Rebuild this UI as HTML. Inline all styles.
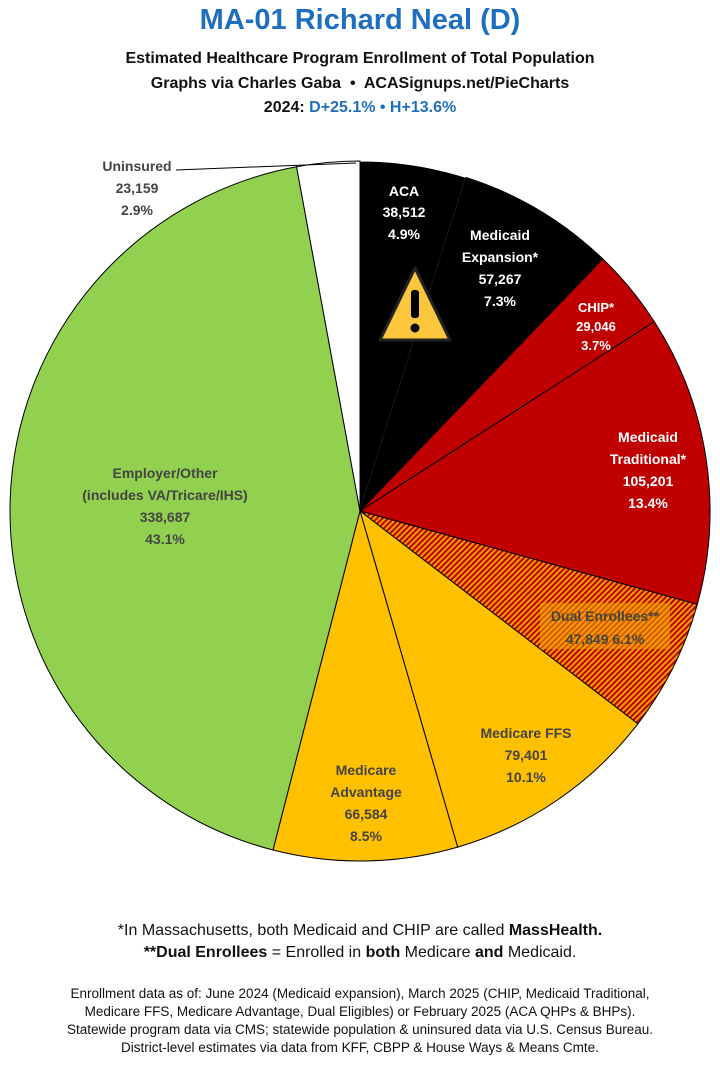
<!DOCTYPE html>
<html><head><meta charset="utf-8"><style>
html,body{margin:0;padding:0;background:#fff;}
body{width:720px;height:1070px;position:relative;font-family:"Liberation Sans",sans-serif;overflow:hidden;}
.c{position:absolute;left:0;width:720px;text-align:center;color:#111;}
</style></head><body>
<div class="c" style="top:4px;font-size:29px;font-weight:bold;color:#1f6fc0;">MA-01 Richard Neal (D)</div>
<div class="c" style="top:50px;font-size:16px;font-weight:bold;">Estimated Healthcare Program Enrollment of Total Population</div>
<div class="c" style="top:75px;font-size:16px;font-weight:bold;">Graphs via Charles Gaba &nbsp;•&nbsp; ACASignups.net/PieCharts</div>
<div class="c" style="top:99px;font-size:16px;font-weight:bold;">2024: <span style="color:#1f6fc0">D+25.1% • H+13.6%</span></div>
<svg style="position:absolute;left:0;top:0" width="720" height="1070">
<defs><pattern id="h" width="4" height="4" patternUnits="userSpaceOnUse" patternTransform="rotate(-45)">
<rect width="4" height="4" fill="#f0a000"/><rect width="4" height="2" fill="#c00000"/></pattern></defs>
<g id="pie" stroke="#000" stroke-width="1"></g>
<g font-family="Liberation Sans,sans-serif" font-weight="bold" font-size="14" text-anchor="middle">
<polygon points="415,268 380,340 450,340" fill="#fcc73c" stroke="#222" stroke-width="3" stroke-linejoin="round"/>
<rect x="411" y="290" width="8" height="28" rx="3" fill="#000"/><circle cx="415" cy="328" r="4.5" fill="#000"/>
<g fill="#fff"><text x="404" y="196">ACA</text><text x="404" y="217">38,512</text><text x="404" y="239">4.9%</text>
<text x="500" y="240">Medicaid</text><text x="500" y="262">Expansion*</text><text x="500" y="284">57,267</text><text x="500" y="306">7.3%</text>
<text x="596" y="312" font-size="13">CHIP*</text><text x="596" y="331" font-size="13">29,046</text><text x="596" y="350" font-size="13">3.7%</text>
<text x="648" y="442">Medicaid</text><text x="648" y="464">Traditional*</text><text x="648" y="486">105,201</text><text x="648" y="508">13.4%</text></g>
<rect x="540" y="603" width="130" height="46" fill="#f0a000" opacity="0.55"/>
<g fill="#444"><text x="605" y="621">Dual Enrollees**</text><text x="605" y="644">47,849 6.1%</text>
<text x="526" y="738">Medicare FFS</text><text x="526" y="760">79,401</text><text x="526" y="782">10.1%</text>
<text x="366" y="775">Medicare</text><text x="366" y="797">Advantage</text><text x="366" y="819">66,584</text><text x="366" y="841">8.5%</text>
<text x="165" y="478">Employer/Other</text><text x="165" y="500">(includes VA/Tricare/IHS)</text><text x="165" y="522">338,687</text><text x="165" y="544">43.1%</text>
<text x="137" y="171">Uninsured</text><text x="137" y="193">23,159</text><text x="137" y="215">2.9%</text></g>
</g>
<line x1="176" y1="170" x2="356" y2="163" stroke="#000" stroke-width="1"/>
</svg>
<div class="c" style="top:922px;font-size:16px;">*In Massachusetts, both Medicaid and CHIP are called <b>MassHealth.</b></div>
<div class="c" style="top:944px;font-size:16px;"><b>**Dual Enrollees</b> = Enrolled in <b>both</b> Medicare <b>and</b> Medicaid.</div>
<div class="c" style="top:985px;font-size:13.5px;line-height:18px;">Enrollment data as of: June 2024 (Medicaid expansion), March 2025 (CHIP, Medicaid Traditional,<br>Medicare FFS, Medicare Advantage, Dual Eligibles) or February 2025 (ACA QHPs &amp; BHPs).<br>Statewide program data via CMS; statewide population &amp; uninsured data via U.S. Census Bureau.<br>District-level estimates via data from KFF, CBPP &amp; House Ways &amp; Means Cmte.</div>
<script>
var d=[[4.9,"#000"],[7.3,"#000"],[3.7,"#c00000"],[13.4,"#c00000"],[6.1,"url(#h)"],[10.1,"#ffc000"],[8.5,"#ffc000"],[43.1,"#92d050"],[2.9,"#fff"]];
var cx=360,cy=511,r=350,a=0,g=document.getElementById("pie"),s="";
d.forEach(function(p){var b=a+p[0]/100*2*Math.PI;
var x1=cx+r*Math.sin(a),y1=cy-r*Math.cos(a),x2=cx+r*Math.sin(b),y2=cy-r*Math.cos(b);
s+='<path d="M'+cx+','+cy+'L'+x1+','+y1+'A'+r+','+r+' 0 '+((b-a)>Math.PI?1:0)+' 1 '+x2+','+y2+'Z" fill="'+p[1]+'"'+(p[0]==4.9?' stroke="#fff"':'')+'/>';a=b;});
g.innerHTML=s;
</script>
</body></html>
